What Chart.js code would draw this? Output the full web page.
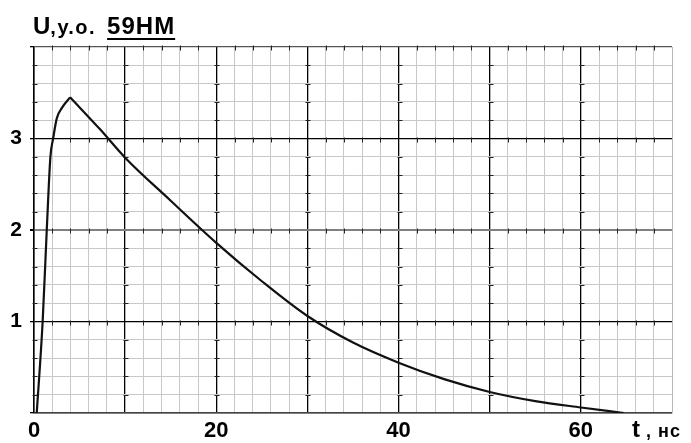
<!DOCTYPE html>
<html>
<head>
<meta charset="utf-8">
<script src="https://cdn.jsdelivr.net/npm/chart.js@4.4.0/dist/chart.umd.min.js"></script>
<style>
    body { margin: 0; background: #fff; }
    #wrap { position: relative; width: 691px; height: 443px; font-family: 'Liberation Sans', Arial, sans-serif; }
    #title { position: absolute; left: 33px; top: 12px; font-weight: bold; font-size: 24px; white-space: nowrap; }
    #title .small { font-size: 20px; letter-spacing: 1.5px; }
    #title .name { margin-left: 11px; font-size: 24px; text-decoration: underline; text-decoration-thickness: 2px; text-underline-offset: 4px; letter-spacing: 1px; }
    #xname { position: absolute; left: 632px; top: 415px; font-weight: bold; font-size: 24px; white-space: nowrap; }
    #xname .small { font-size: 18px; letter-spacing: 1px; }
</style>
</head>
<body>
<div id="wrap">
    <canvas id="pulse" width="691" height="443"></canvas>
    <div id="title">U<span class="small">,у.о.</span><span class="name">59НМ</span></div>
    <div id="xname">t<span class="small"> , нс</span></div>
</div>
<script>
// фронт импульса
const riseT = [0.3, 0.95, 1.4, 1.8, 2.1, 2.5, 3.1, 3.96];
const riseU = [0, 1.0, 2.0, 2.8, 3.0, 3.22, 3.34, 3.45];
// спад импульса
const decayT = [3.96, 7.25, 10, 15, 20, 25, 30, 35, 40, 45, 50, 55, 60, 64.7];
const decayU = [3.45, 3.10, 2.79, 2.32, 1.86, 1.44, 1.06, 0.77, 0.55, 0.37, 0.23, 0.13, 0.06, 0];
const xLabels = [0, 20, 40, 60];
const yLabels = [1, 2, 3];

const toPoints = (ts, us) => ts.map((t, i) => ({ x: t, y: us[i] }));

const isMajorX = v => Math.round(v) % 10 === 0;
const isMajorY = v => Math.round(v * 5) % 5 === 0;

// маленькие засечки на толстых линиях сетки
const gridDashes = {
    id: 'gridDashes',
    beforeDatasetsDraw(chart) {
        const { ctx, scales: { x, y } } = chart;
        ctx.save();
        ctx.strokeStyle = '#222';
        ctx.lineWidth = 1;
        ctx.beginPath();
        for (let tx = 0; tx <= 60; tx += 10) {
            const px = Math.round(x.getPixelForValue(tx)) + 0.5;
            for (let k = 1; k < 20; k++) {
                if (k % 5 === 0) continue;
                const py = Math.round(y.getPixelForValue(k / 5)) + 0.5;
                ctx.moveTo(px - 2, py);
                ctx.lineTo(px + 3, py);
            }
        }
        for (let ty = 1; ty <= 4; ty++) {
            const py = Math.round(y.getPixelForValue(ty)) + 0.5;
            for (let tx = 2; tx < 70; tx += 2) {
                if (tx % 10 === 0) continue;
                const px = Math.round(x.getPixelForValue(tx)) + 0.5;
                ctx.moveTo(px, py - 2);
                ctx.lineTo(px, py + 3);
            }
        }
        ctx.stroke();
        ctx.restore();
    }
};

const lineStyle = {
    borderColor: '#111',
    borderWidth: 2.2,
    pointRadius: 0,
    fill: false,
    cubicInterpolationMode: 'monotone'
};

new Chart(document.getElementById('pulse'), {
    type: 'line',
    plugins: [gridDashes],
    data: {
        datasets: [
            { ...lineStyle, data: toPoints(riseT, riseU) },
            { ...lineStyle, data: toPoints(decayT, decayU) }
        ]
    },
    options: {
        responsive: false,
        animation: false,
        layout: { padding: { top: 47, right: 19, left: 0, bottom: 0 } },
        plugins: { legend: { display: false }, tooltip: { enabled: false } },
        scales: {
            x: {
                type: 'linear',
                min: 0,
                max: 70,
                afterFit: scale => { scale.height = 30; },
                border: { color: '#444', width: 1.5 },
                grid: {
                    drawTicks: false,
                    color: ctx => {
                        const v = ctx.tick.value;
                        if (v === 70) return '#b8b8b8';
                        return isMajorX(v) ? '#000' : '#c8c8c8';
                    },
                    lineWidth: ctx => (isMajorX(ctx.tick.value) && ctx.tick.value !== 70 ? 1.3 : 1)
                },
                ticks: {
                    stepSize: 2,
                    autoSkip: false,
                    maxRotation: 0,
                    padding: 5,
                    color: '#000',
                    font: { family: 'Liberation Sans', size: 22, weight: 'bold' },
                    callback: v => (xLabels.includes(v) ? String(v) : '')
                }
            },
            y: {
                min: 0,
                max: 4,
                afterFit: scale => { scale.width = 34; },
                border: { color: '#000', width: 1.5 },
                grid: {
                    tickLength: 4,
                    color: ctx => {
                        const v = ctx.tick.value;
                        if (Math.abs(v - 2) < 1e-6) return '#808080';
                        if (Math.abs(v - 4) < 1e-6) return '#555';
                        return isMajorY(v) ? '#000' : '#c8c8c8';
                    },
                    tickColor: ctx => (isMajorY(ctx.tick.value) ? '#000' : 'rgba(0,0,0,0)'),
                    lineWidth: ctx => {
                        const v = ctx.tick.value;
                        if (Math.abs(v - 2) < 1e-6) return 2;
                        return isMajorY(v) ? 1.3 : 1;
                    }
                },
                ticks: {
                    stepSize: 0.2,
                    autoSkip: false,
                    padding: 8,
                    color: '#000',
                    font: { family: 'Liberation Sans', size: 21, weight: 'bold' },
                    callback: v => {
                        const r = Math.round(v);
                        return Math.abs(v - r) < 1e-6 && yLabels.includes(r) ? String(r) : '';
                    }
                }
            }
        }
    }
});
</script>
</body>
</html>
